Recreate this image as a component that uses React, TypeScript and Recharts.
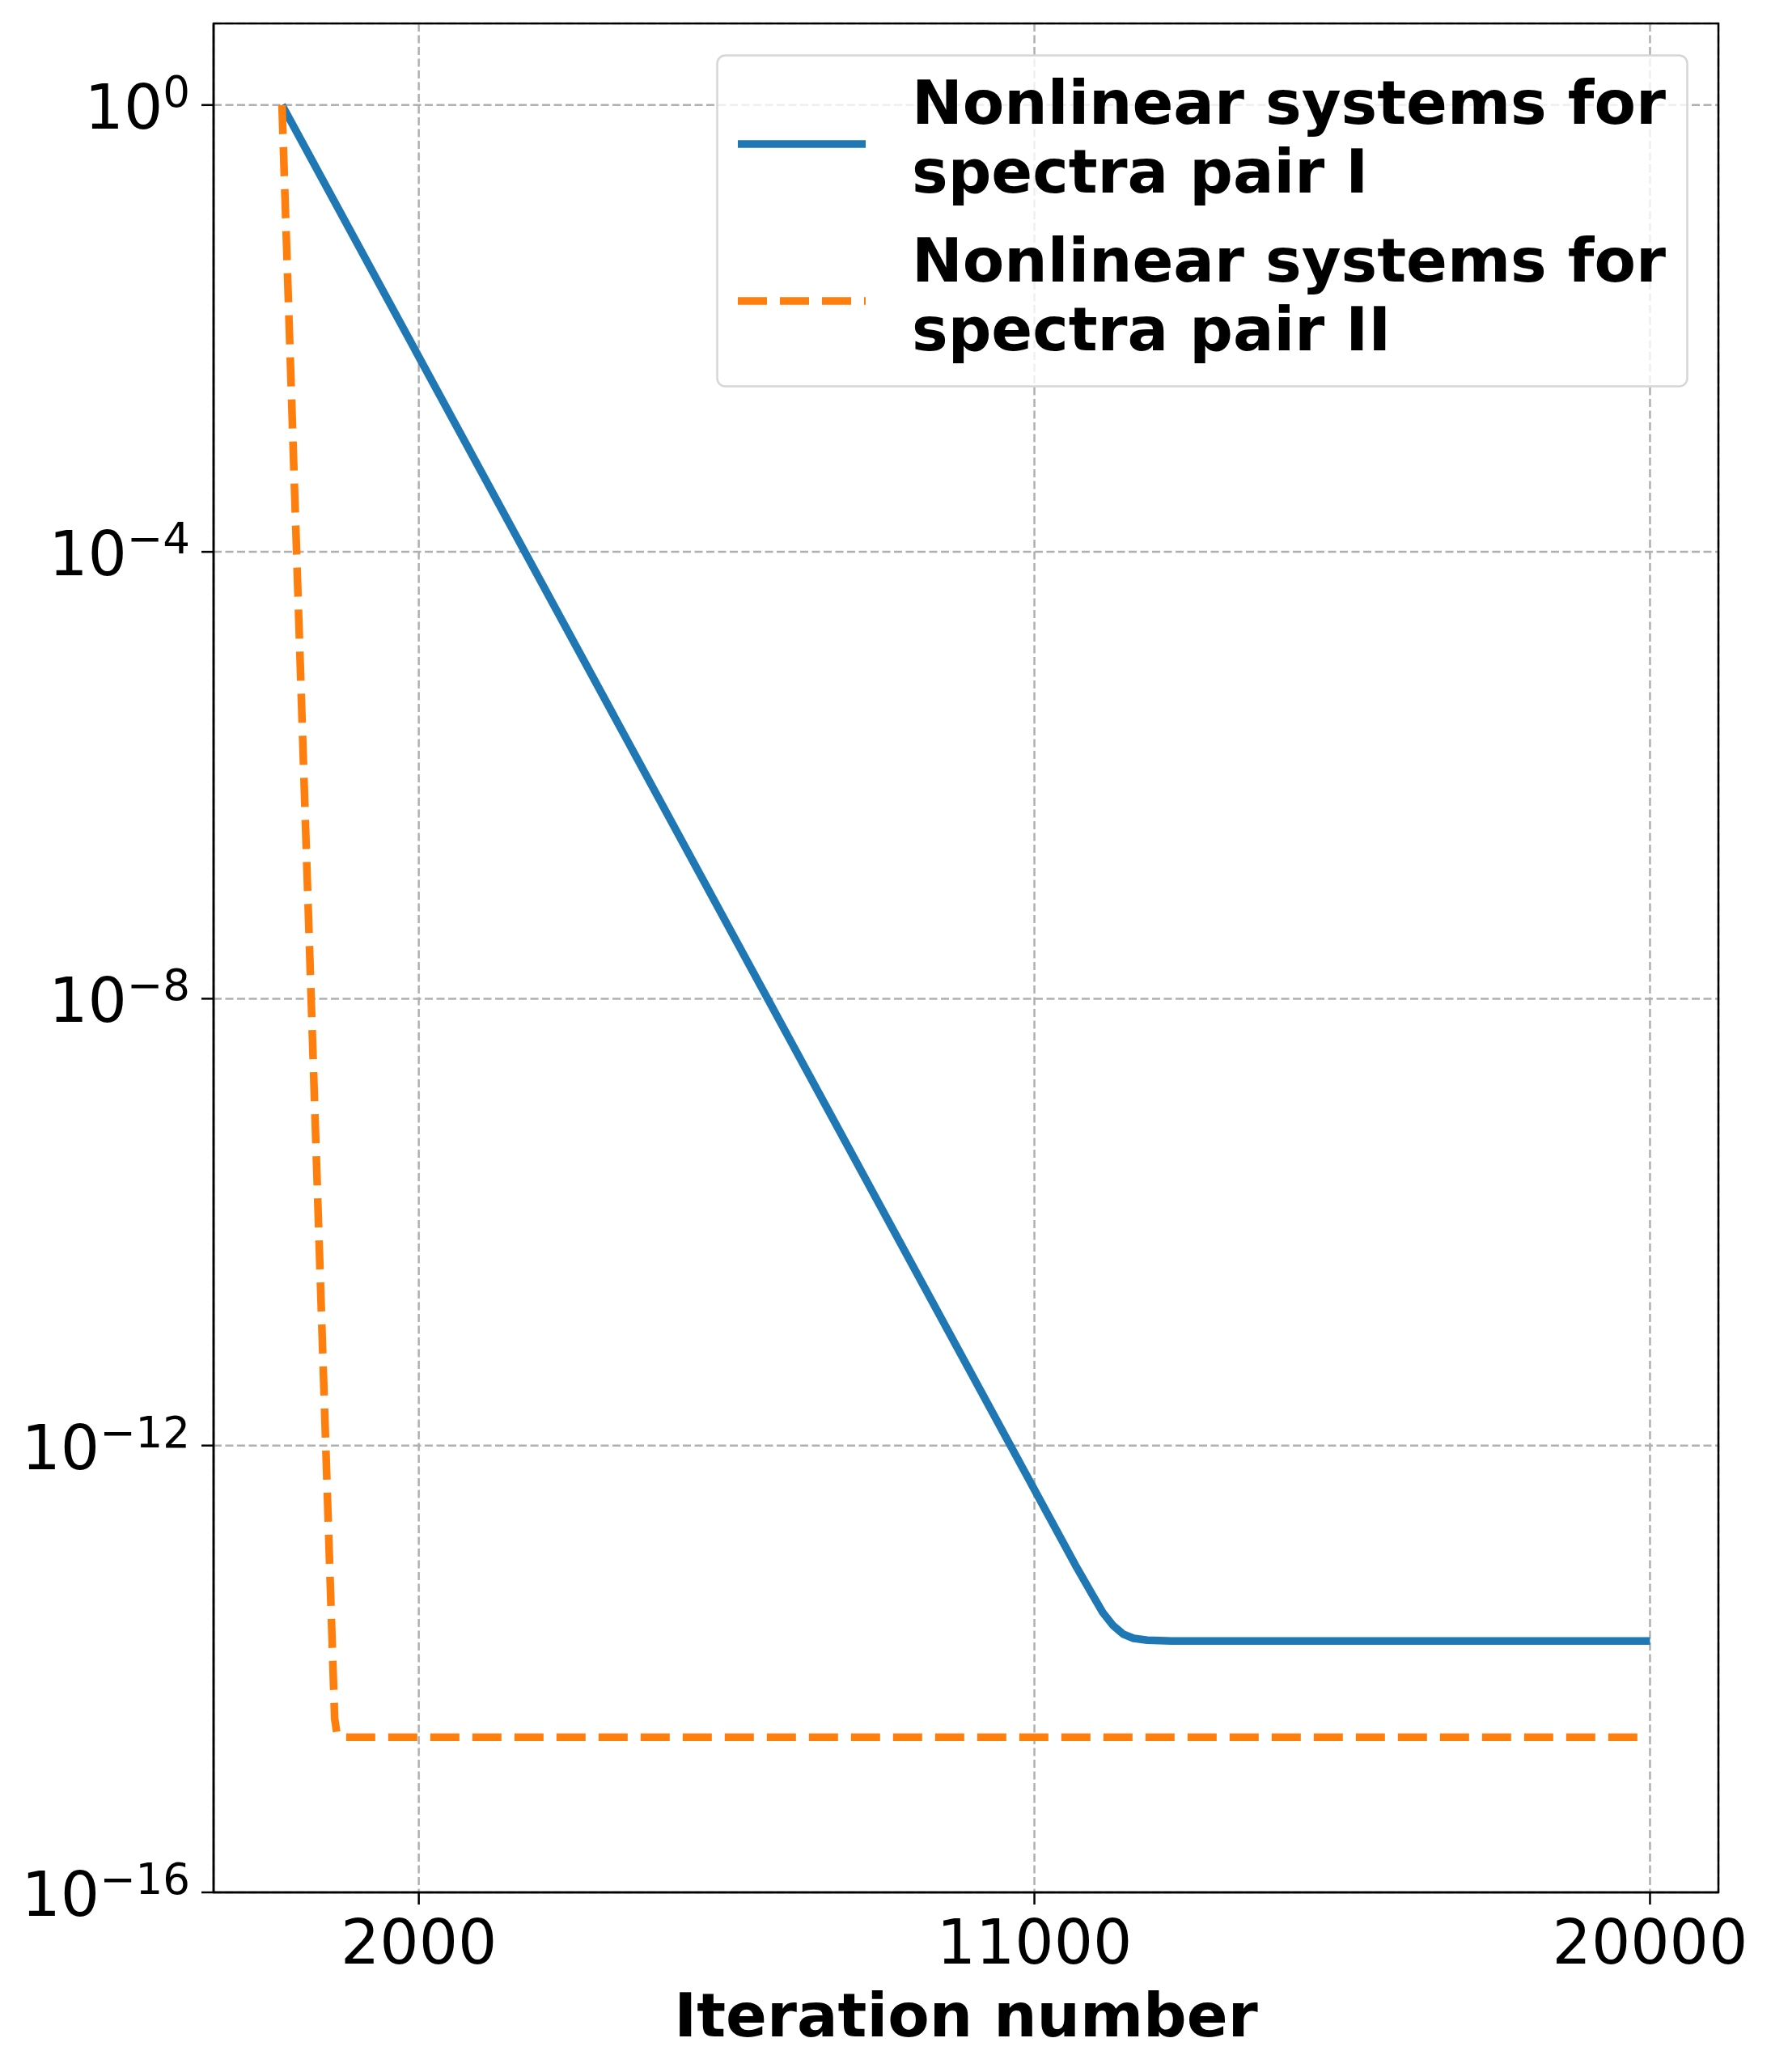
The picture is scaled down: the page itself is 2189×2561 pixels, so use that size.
import React from 'react';
import {
  LineChart,
  Line,
  XAxis,
  YAxis,
  CartesianGrid,
  ReferenceArea,
  Legend,
} from 'recharts';

// Iteration numbers and residuals
const pairOneIter = [0, 11600, 11850, 12000, 12150, 12300, 12450, 12650, 13000, 20000];
const pairOneResidual = [1, 8.5e-14, 4.6e-14, 3.2e-14, 2.45e-14, 2.05e-14, 1.88e-14, 1.81e-14, 1.78e-14, 1.78e-14];

const pairTwoIter = [0, 770, 805, 840, 20000];
const pairTwoResidual = [1, 3.6e-15, 2.6e-15, 2.45e-15, 2.45e-15];

const xTicks = [2000, 11000, 20000];
const yTicks = [1e-16, 1e-12, 1e-8, 1e-4, 1];
const yTickExponents = ['\u221216', '\u221212', '\u22128', '\u22124', '0'];

const seriesNames = ['Nonlinear systems for|spectra pair I', 'Nonlinear systems for|spectra pair II'];

const pairOneData = pairOneIter.map((it, i) => ({ iter: it, value: pairOneResidual[i] }));
const pairTwoData = pairTwoIter.map((it, i) => ({ iter: it, value: pairTwoResidual[i] }));

const FONT = '"DejaVu Sans", Verdana, sans-serif';
const BLUE = '#1f77b4';
const ORANGE = '#ff7f0e';
const Y_MAX = Math.pow(10, 0.73);

function YTick(props: any) {
  const { x, y, payload } = props;
  const i = yTicks.findIndex(
    (t) => Math.abs(Math.log10(t) - Math.log10(payload.value)) < 1e-6
  );
  return (
    <text x={x} y={y + 29} textAnchor="end" fontSize={76} fontFamily={FONT} fill="#000">
      <tspan>10</tspan>
      <tspan dy={-27} fontSize={53}>{yTickExponents[i]}</tspan>
    </text>
  );
}

function XTick(props: any) {
  const { x, y, payload } = props;
  return (
    <text x={x} y={y + 73} textAnchor="middle" fontSize={76} fontFamily={FONT} fill="#000">
      {payload.value}
    </text>
  );
}

function XLabel(props: any) {
  const vb = props.viewBox;
  return (
    <text
      x={vb.x + vb.width / 2}
      y={vb.y + 178}
      textAnchor="middle"
      fontSize={75}
      fontWeight="bold"
      fontFamily={FONT}
      fill="#000"
    >
      Iteration number
    </text>
  );
}

function LegendBox() {
  const entries = [
    { color: BLUE, dash: undefined, handleY: 111, lines: seriesNames[0].split('|'), base: 86 },
    { color: ORANGE, dash: '36 16', handleY: 305, lines: seriesNames[1].split('|'), base: 281 },
  ];
  return (
    <svg width={1203} height={413} style={{ display: 'block' }}>
      <rect
        x={1.5}
        y={1.5}
        width={1199}
        height={409}
        rx={10}
        fill="#fff"
        fillOpacity={0.8}
        stroke="#d6d6d6"
        strokeWidth={2.5}
      />
      {entries.map((e) => (
        <g key={e.color}>
          <line
            x1={27}
            x2={185}
            y1={e.handleY}
            y2={e.handleY}
            stroke={e.color}
            strokeWidth={9.5}
            strokeDasharray={e.dash}
          />
          {e.lines.map((txt, j) => (
            <text
              key={txt}
              x={242}
              y={e.base + j * 85}
              fontSize={75}
              fontWeight="bold"
              fontFamily={FONT}
              fill="#000"
            >
              {txt}
            </text>
          ))}
        </g>
      ))}
    </svg>
  );
}

export default function App() {
  return (
    <div style={{ position: 'absolute', left: 0, top: 0, background: '#fff' }}>
      <LineChart
        width={2189}
        height={2561}
        margin={{ top: 29, right: 65, bottom: 0, left: 0 }}
        style={{ fontFamily: FONT }}
      >
        <CartesianGrid stroke="#b0b0b0" strokeWidth={2.5} strokeDasharray="10 4.5" />
        <XAxis
          type="number"
          dataKey="iter"
          domain={[-1000, 21000]}
          ticks={xTicks}
          allowDataOverflow
          height={222}
          tickSize={15}
          tickMargin={0}
          axisLine={{ stroke: '#000', strokeWidth: 2.5 }}
          tickLine={{ stroke: '#000', strokeWidth: 2.5 }}
          tick={<XTick />}
          label={<XLabel />}
        />
        <YAxis
          type="number"
          dataKey="value"
          scale="log"
          domain={[1e-16, Y_MAX]}
          ticks={yTicks}
          allowDataOverflow
          width={264}
          tickSize={15}
          tickMargin={14}
          axisLine={{ stroke: '#000', strokeWidth: 2.5 }}
          tickLine={{ stroke: '#000', strokeWidth: 2.5 }}
          tick={<YTick />}
        />
        <Line
          data={pairOneData}
          dataKey="value"
          name="pair I"
          type="linear"
          stroke={BLUE}
          strokeWidth={9.5}
          strokeLinejoin="round"
          dot={false}
          activeDot={false}
          isAnimationActive={false}
        />
        <Line
          data={pairTwoData}
          dataKey="value"
          name="pair II"
          type="linear"
          stroke={ORANGE}
          strokeWidth={9.5}
          strokeDasharray="36 16"
          strokeLinejoin="round"
          dot={false}
          activeDot={false}
          isAnimationActive={false}
        />
        <ReferenceArea
          x1={-1000}
          x2={21000}
          y1={1e-16}
          y2={Y_MAX}
          ifOverflow="visible"
          fill="none"
          fillOpacity={0}
          stroke="#000"
          strokeWidth={2.5}
        />
        <Legend
          layout="horizontal"
          verticalAlign="middle"
          align="center"
          wrapperStyle={{ left: 885, top: 67, width: 1203, height: 413 }}
          content={() => <LegendBox />}
        />
      </LineChart>
    </div>
  );
}
